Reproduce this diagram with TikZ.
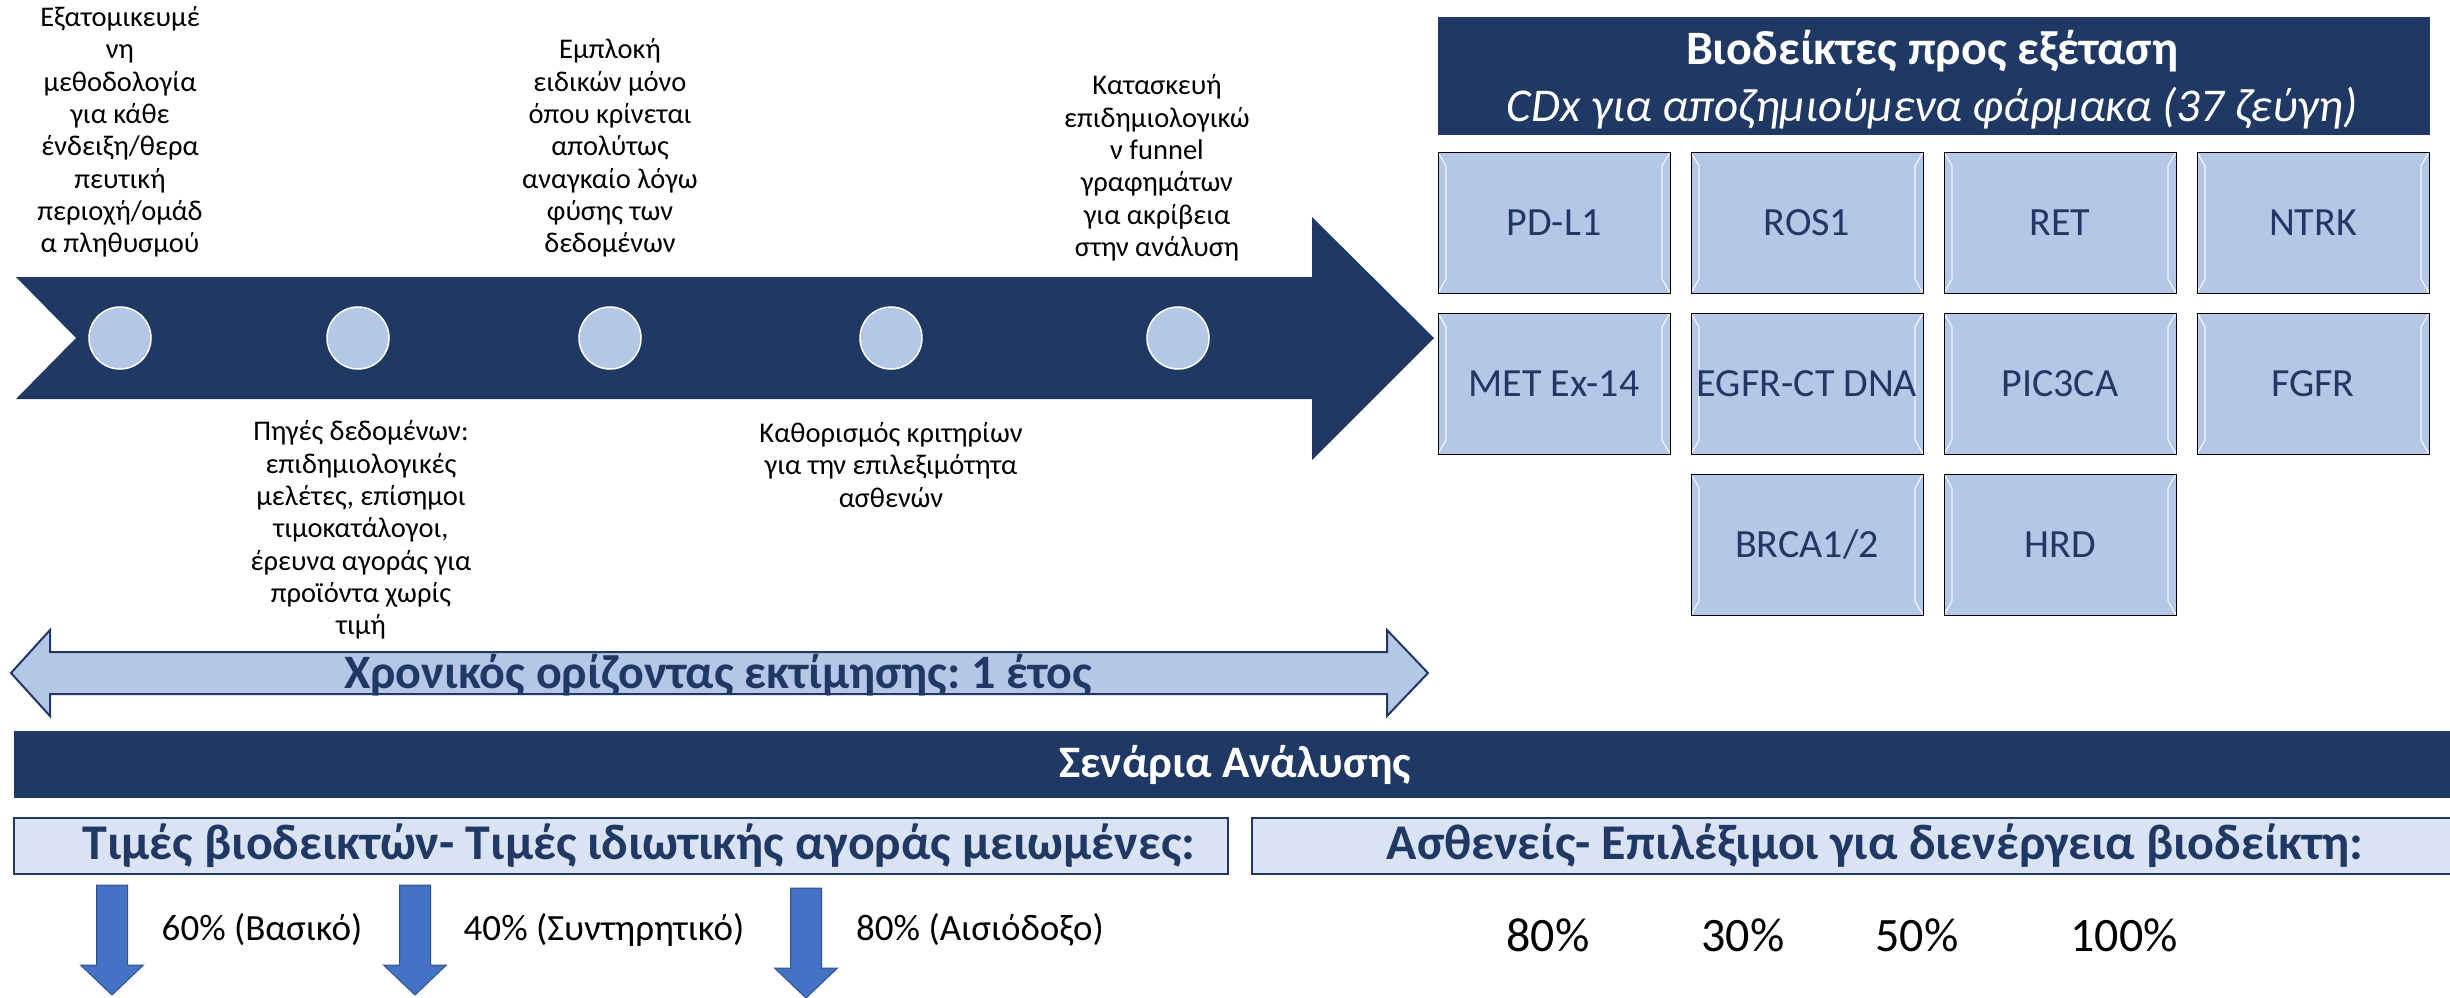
\documentclass[tikz,border=0pt]{standalone}
\usepackage{fontspec}
\setmainfont{Carlito}
\frenchspacing
\definecolor{navy}{HTML}{203864}
\definecolor{lightblue}{HTML}{B4C7E7}
\definecolor{paleblue}{HTML}{DAE3F3}
\definecolor{arrowblue}{HTML}{4472C4}
\definecolor{arrowedge}{HTML}{2F528F}
\tikzset{
  milestone/.style={circle, fill=lightblue, draw=white, line width=1.5pt, minimum size=62pt, inner sep=0pt},
  note/.style={align=center, inner sep=0pt, font=\fontsize{28.5}{32.3}\selectfont},
  biobox/.style={rectangle, draw=black, line width=0.8pt, fill=lightblue, minimum width=232pt, minimum height=141pt, inner sep=0pt, text=navy, font=\fontsize{40}{44}\selectfont,
    path picture={
      \draw[white, opacity=0.85, line width=1.2pt]
        (path picture bounding box.north west) -- ++(8pt,-14pt) |- ([xshift=8pt,yshift=14pt]path picture bounding box.south west) -- (path picture bounding box.south west);
      \draw[white, opacity=0.85, line width=1.2pt]
        (path picture bounding box.north east) -- ++(-8pt,-14pt) -- ([xshift=-8pt,yshift=14pt]path picture bounding box.south east) -- (path picture bounding box.south east);
    }},
  scenario/.style={rectangle, draw=navy, line width=2.5pt, fill=paleblue, minimum height=56pt, inner sep=0pt},
  scenariotext/.style={inner sep=0pt, text=navy, font=\bfseries\fontsize{50}{54}\selectfont},
  pct/.style={inner sep=0pt, font=\fontsize{37}{40}\selectfont},
  bigpct/.style={inner sep=0pt, font=\fontsize{48}{52}\selectfont}
}
\begin{document}
\begin{tikzpicture}[x=1pt, y=-1pt]
  \useasboundingbox (0,0) rectangle (2450,997);

  % timeline
  \fill[navy] (16,277) -- (1312,277) -- (1312,217) -- (1434,338) -- (1312,460)
    -- (1312,399) -- (16,399) -- (76,338) -- cycle;
  \foreach \i/\x in {1/120, 2/358, 3/610, 4/891, 5/1178}
  {
    \path (\x, 338) node[milestone] (m\i) {};
  }

  \path (120,132) node[note] (t1) {Εξατομικευμέ\\νη\\μεθοδολογία\\για κάθε\\ένδειξη/θερα\\πευτική\\περιοχή/ομάδ\\α πληθυσμού};
  \path (610,148) node[note] (t3) {Εμπλοκή\\ειδικών μόνο\\όπου κρίνεται\\απολύτως\\αναγκαίο λόγω\\φύσης των\\δεδομένων};
  \path (1157,168) node[note] (t5) {Κατασκευή\\επιδημιολογικώ\\ν funnel\\γραφημάτων\\για ακρίβεια\\στην ανάλυση};
  \path (361,530) node[note] (t2) {Πηγές δεδομένων:\\επιδημιολογικές\\μελέτες, επίσημοι\\τιμοκατάλογοι,\\έρευνα αγοράς για\\προϊόντα χωρίς\\τιμή};
  \path (891,465) node[note] (t4) {Καθορισμός κριτηρίων\\για την επιλεξιμότητα\\ασθενών};

  % time horizon
  \filldraw[fill=lightblue, draw=navy, line width=2pt] (11,673) -- (50,630) -- (50,652) -- (1387,652)
    -- (1387,630) -- (1428,673) -- (1387,716) -- (1387,694) -- (50,694) -- (50,716) -- cycle;
  \path (718,675) node[inner sep=0pt, text=navy, font=\bfseries\fontsize{48}{52}\selectfont] (horizon) {Χρονικός ορίζοντας εκτίμησης: 1 έτος};

  % biomarkers
  \path (1934,76) node[fill=navy, minimum width=992pt, minimum height=118pt] (hdr) {};
  \path (1932,51) node[inner sep=0pt, text=white, font=\bfseries\fontsize{48}{52}\selectfont] (hdrtitle) {Βιοδείκτες προς εξέταση};
  \path (1932,108) node[inner sep=0pt, text=white, font=\itshape\fontsize{47}{51}\selectfont] (hdrsub) {CDx για αποζημιούμενα φάρμακα (37 ζεύγη)};
  \foreach \n/\lbl/\c/\r in {pdl/PD-L1/0/0, ros/ROS1/1/0, ret/RET/2/0, ntrk/NTRK/3/0,
    met/MET Ex-14/0/1, egfr/EGFR-CT DNA/1/1, pic/PIC3CA/2/1, fgfr/FGFR/3/1,
    brca/{BRCA1/2}/1/2, hrd/HRD/2/2}
  {
    \path (1554+\c*253, 222.5+\r*161) node[biobox] (\n) {\lbl};
  }

  % scenarios
  \path (1232,764.5) node[fill=navy, minimum width=2436pt, minimum height=67pt, inner sep=0pt] (banner) {};
  \path (1235,765) node[inner sep=0pt, text=white, font=\bfseries\fontsize{45}{49}\selectfont] (bannertxt) {Σενάρια Ανάλυσης};
  \path (621,846) node[scenario, minimum width=1214pt] (prices) {};
  \path (639,846) node[scenariotext] (pricestxt) {Τιμές βιοδεικτών- Τιμές ιδιωτικής αγοράς μειωμένες:};
  \path (1857,846) node[scenario, minimum width=1210pt] (patients) {};
  \path (1875,846) node[scenariotext] (patientstxt) {Ασθενείς- Επιλέξιμοι για διενέργεια βιοδείκτη:};

  \foreach \x/\y in {112/885, 415/885, 806/888}
  {
    \filldraw[fill=arrowblue, draw=arrowedge, line width=1pt] (\x-15.5,\y) -- (\x+15.5,\y) -- (\x+15.5,\y+80)
      -- (\x+31.5,\y+80) -- (\x,\y+110) -- (\x-31.5,\y+80) -- (\x-15.5,\y+80) -- cycle;
  }
  \path (262,930) node[pct] (base) {60\% (Βασικό)};
  \path (604,930) node[pct] (cons) {40\% (Συντηρητικό)};
  \path (980,930) node[pct] (opt) {80\% (Αισιόδοξο)};

  \path (1548,935) node[bigpct] (p1) {80\%};
  \path (1743,935) node[bigpct] (p2) {30\%};
  \path (1917,935) node[bigpct] (p3) {50\%};
  \path (2124,935) node[bigpct] (p4) {100\%};
\end{tikzpicture}
\end{document}
